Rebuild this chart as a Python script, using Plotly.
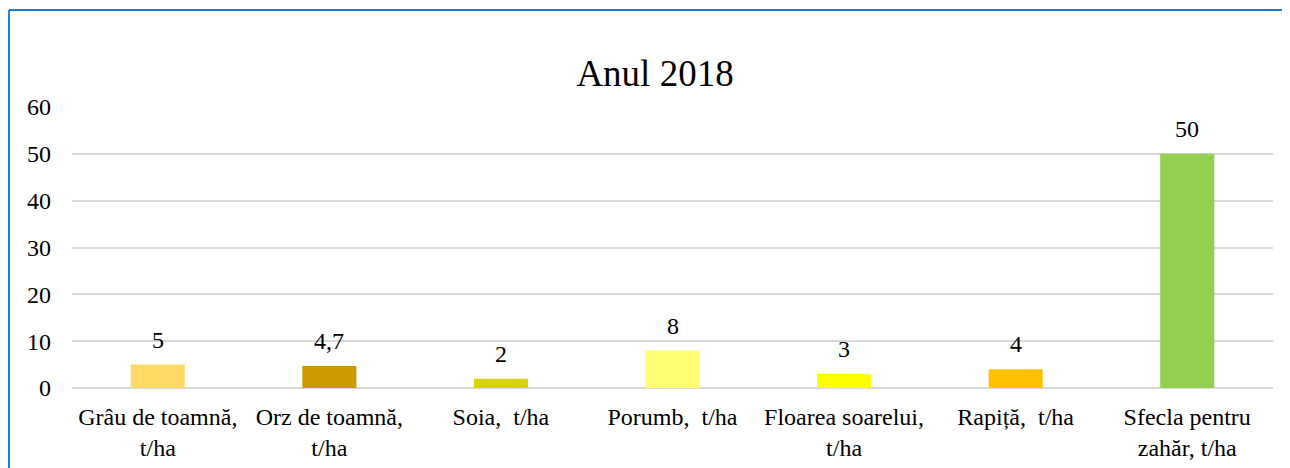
import plotly.graph_objects as go

categories = ["Grâu de toamnă,<br>t/ha", "Orz de toamnă,<br>t/ha", "Soia,  t/ha", "Porumb,  t/ha",
              "Floarea soarelui,<br>t/ha", "Rapiță,  t/ha", "Sfecla pentru<br>zahăr, t/ha"]
values = [5, 4.7, 2, 8, 3, 4, 50]
value_labels = ["5", "4,7", "2", "8", "3", "4", "50"]
colors = ["#FFD966", "#CC9900", "#D9D300", "#FFFF75", "#FFFF00", "#FFC000", "#92D050"]
y_ticks = [0, 10, 20, 30, 40, 50, 60]

FONT = "Liberation Serif, Times New Roman, serif"

# page body has an 8px margin, so figure coords = reference coords - 8
OFF = 8
W, H = 1290 - OFF, 468 - OFF
ml, mt = 72 - OFF, 107 - OFF
pw, ph = 1201, 281
mr = W - ml - pw
mb = H - mt - ph

def px(x):
    return (x - OFF - ml) / pw

def py(y):
    return (mt + ph - (y - OFF)) / ph

fig = go.Figure()
fig.add_trace(go.Bar(x=categories, y=values, marker=dict(color=colors, line=dict(width=0)),
                     hoverinfo="skip"))

for c, v, t in zip(categories, values, value_labels):
    fig.add_annotation(x=c, y=v, text=t, showarrow=False, yanchor="bottom", yshift=10,
                       font=dict(family=FONT, size=24, color="#000000"))

fig.add_shape(type="line", xref="paper", yref="paper", x0=px(9), x1=px(1300), y0=py(10), y1=py(10),
              line=dict(color="#1E7FD6", width=2))
fig.add_shape(type="line", xref="paper", yref="paper", x0=px(9), x1=px(9), y0=py(10), y1=py(480),
              line=dict(color="#1E7FD6", width=2))

fig.update_layout(
    width=W, height=H,
    margin=dict(l=ml, r=mr, t=mt, b=mb, autoexpand=False),
    paper_bgcolor="white", plot_bgcolor="white",
    bargap=0.685,
    showlegend=False,
    title=dict(text="Anul 2018", x=(655 - OFF) / W, xanchor="center", y=1 - (73 - OFF) / H,
               yanchor="middle", font=dict(family=FONT, size=37, color="#000000")),
    font=dict(family=FONT, size=24, color="#000000"),
)
fig.update_xaxes(showgrid=False, showline=False, ticks="", tickfont=dict(family=FONT, size=24),
                 tickangle=0, ticklabelstandoff=12, automargin=False)
fig.update_yaxes(range=[0, 60], tickvals=y_ticks, showgrid=True, gridcolor="#D9D9D9", gridwidth=1.5,
                 zeroline=True, zerolinecolor="#D9D9D9", zerolinewidth=1.5, showline=False, ticks="",
                 tickfont=dict(family=FONT, size=24), ticklabelstandoff=20, automargin=False)

fig.write_html("out.html")
